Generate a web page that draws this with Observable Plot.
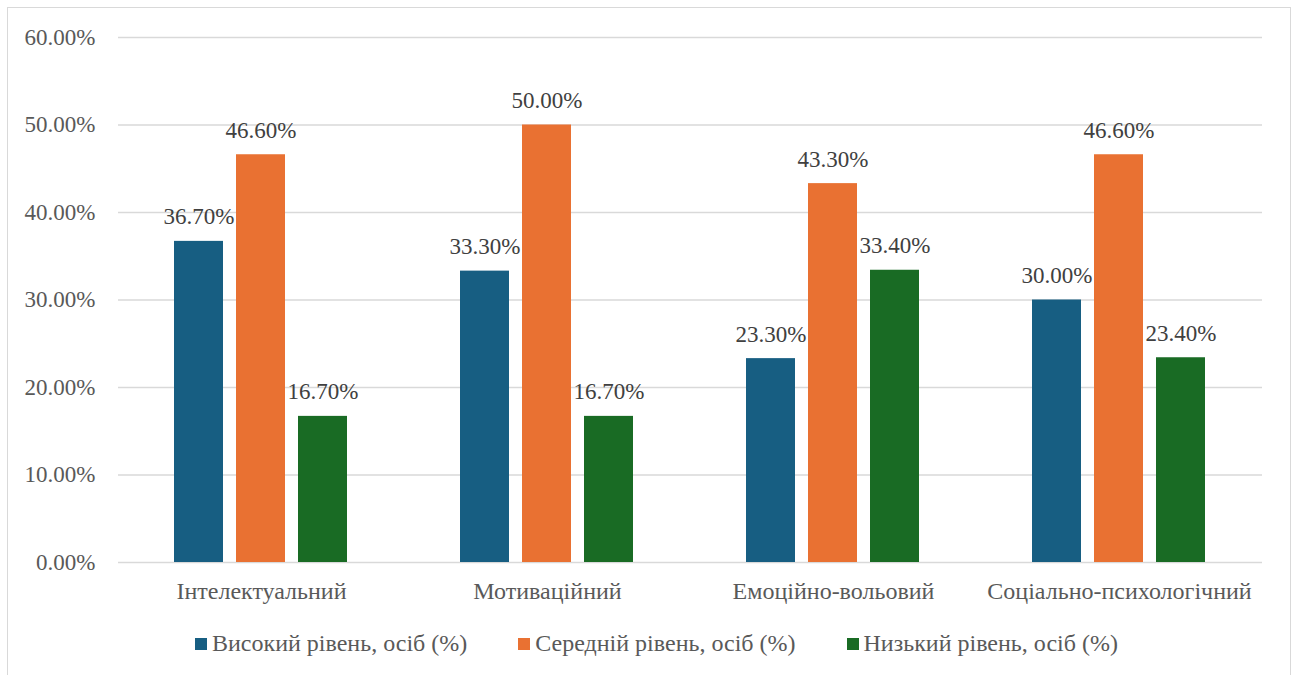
<!DOCTYPE html>
<html><head><meta charset="utf-8">
<script src="https://cdn.jsdelivr.net/npm/d3@7"></script>
<script src="https://cdn.jsdelivr.net/npm/@observablehq/plot@0.6"></script>
<style>
html,body{margin:0;padding:0;background:#fff;}
body{width:1295px;height:675px;position:relative;overflow:hidden;font-family:'Liberation Serif',serif;}
#frame{position:absolute;left:7px;top:7px;width:1284px;height:720px;border:1px solid #d9d9d9;box-sizing:border-box;}
#chart{position:absolute;left:0;top:0;}
#legend{position:absolute;top:631px;left:195px;display:flex;gap:51px;font-family:'Liberation Serif',serif;font-size:24px;line-height:24px;color:#595959;white-space:nowrap;}
.item{display:flex;align-items:center;}
.sw{display:inline-block;width:12px;height:12px;margin-right:5px;margin-top:1px;}
</style>
</head><body>
<div id="frame"></div>
<div id="chart"></div>
<div id="legend"></div>
<script>
const categories = ["Інтелектуальний","Мотиваційний","Емоційно-вольовий","Соціально-психологічний"];
const series = ["Високий рівень, осіб (%)","Середній рівень, осіб (%)","Низький рівень, осіб (%)"];
const colors = ["#175E82","#E97132","#196B24"];
const highValues = [0.367,0.333,0.233,0.300];
const midValues = [0.466,0.500,0.433,0.466];
const lowValues = [0.167,0.167,0.334,0.234];
const yTicks = [0,0.1,0.2,0.3,0.4,0.5,0.6];

const valuesBySeries = [highValues, midValues, lowValues];
const data = [];
categories.forEach((c,i)=>series.forEach((s,j)=>data.push({cat:c, series:s, value:valuesBySeries[j][i]})));
const fmt = d3.format(".2%");

const chart = Plot.plot({
  width:1295, height:620,
  marginLeft:118, marginRight:33, marginTop:37, marginBottom:58,
  style:{fontFamily:"Liberation Serif, serif", fontSize:"23px", color:"#595959", background:"transparent"},
  fx:{domain:categories, padding:0, label:null, axis:null},
  x:{domain:series, axis:null, paddingInner:0.206, paddingOuter:0.873},
  y:{domain:[0,0.6], ticks:yTicks, tickFormat:fmt, tickSize:0, tickPadding:23, label:null},
  color:{domain:series, range:colors},
  marks:[
    Plot.ruleY(yTicks, {stroke:"#d9d9d9", strokeWidth:1.5}),
    Plot.axisFx({anchor:"bottom", tickSize:0, tickPadding:19, label:null, fontSize:24, fill:"#595959", fontFamily:"Liberation Serif, serif"}),
    Plot.barY(data, {fx:"cat", x:"series", y:"value", fill:"series"}),
    Plot.text(data, {fx:"cat", x:"series", y:"value", text:d=>fmt(d.value), lineAnchor:"bottom", dy:-17, fill:"#404040", fontSize:23, fontFamily:"Liberation Serif, serif"})
  ]
});
document.getElementById("chart").appendChild(chart);

const leg = document.getElementById("legend");
series.forEach((s,i)=>{
  const it = document.createElement("div"); it.className="item";
  const sw = document.createElement("span"); sw.className="sw"; sw.style.background=colors[i];
  const t = document.createElement("span"); t.textContent=s;
  it.appendChild(sw); it.appendChild(t); leg.appendChild(it);
});
</script>
</body></html>
